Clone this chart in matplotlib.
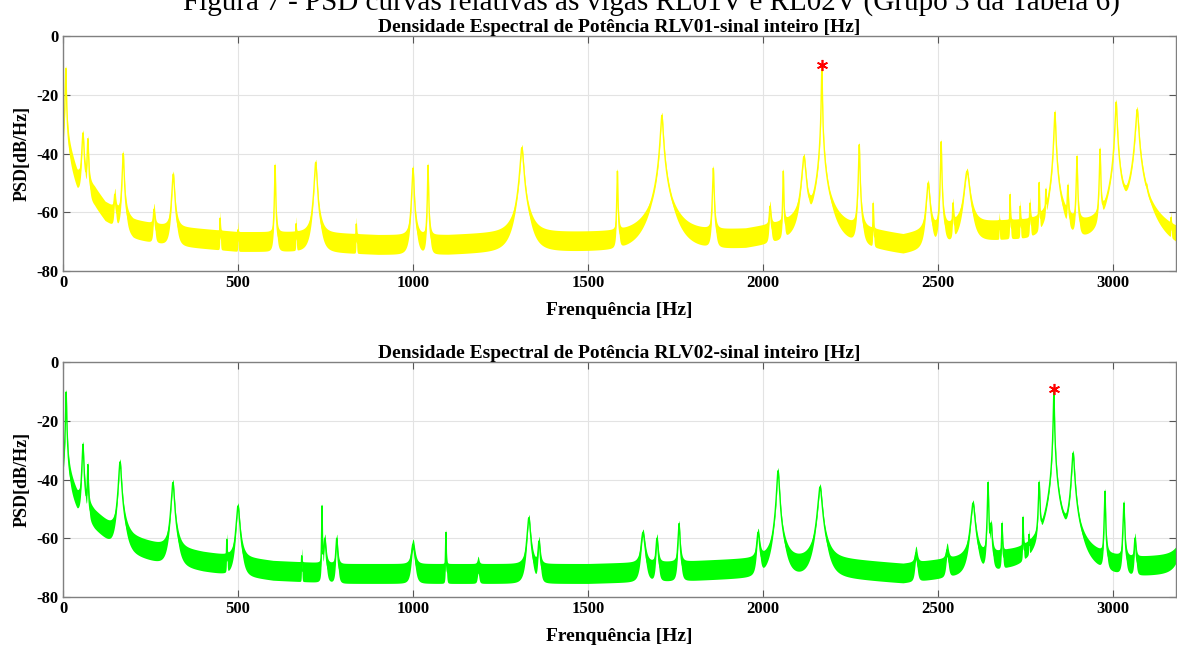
import numpy as np
import matplotlib.pyplot as plt

plt.rcParams['font.family'] = ['Liberation Serif', 'DejaVu Serif']
plt.rcParams['font.weight'] = 'bold'
plt.rcParams['axes.unicode_minus'] = False

# Frequency axis of the spectra [Hz]
freq = np.arange(0, 3200.01, 0.25)

# ---- RLV01 ----
rlv01_floor_hz = [0, 20, 40, 60, 90, 120, 150, 200, 300, 400, 500, 700, 900,
                  1100, 1300, 1500, 1700, 1950, 2100, 2250, 2400, 2550, 2700,
                  2850, 3000, 3200]
rlv01_floor_db = [-34, -42, -50, -52, -55, -60, -62, -66, -68, -69, -70, -70,
                  -71, -71, -70, -70, -70, -69, -66, -68, -71, -67, -66, -66,
                  -69, -71]
rlv01_peak_hz = [8, 57, 71, 148, 172, 260, 315, 449, 500, 606, 666, 722, 838,
                 1000, 1043, 1311, 1584, 1711, 1858, 2020, 2058, 2117, 2168,
                 2275, 2315, 2472, 2509, 2543, 2583, 2675, 2706, 2735, 2763,
                 2789, 2808, 2834, 2871, 2897, 2963, 3009, 3069, 3097, 3166]
rlv01_peak_db = [-11, -33, -35, -54, -40, -59, -47, -62, -66, -44, -64, -43,
                 -64, -45, -44, -38, -46, -27, -45, -58, -46, -41, -10, -37,
                 -57, -50, -36, -57, -46, -63, -54, -58, -57, -50, -53, -26,
                 -51, -41, -38.5, -22.5, -25, -58, -63]
rlv01_peak_width = [1.1, 2.5, 1.6, 2.5, 2, 2.5, 3, 0.8, 0.8, 1, 0.8, 3, 0.8,
                    2.2, 1, 4, 1, 3.2, 1.5, 2.5, 1, 4.5, 0.8, 1.3, 0.8, 4, 1.1,
                    1.5, 6, 0.8, 0.8, 0.8, 1.2, 0.8, 0.8, 2.0, 1.5, 1.2, 1.2,
                    2.2, 3.5, 1.5, 0.8]

# ---- RLV02 ----
rlv02_floor_hz = [0, 20, 40, 60, 90, 120, 160, 200, 300, 400, 600, 800, 1000,
                  1200, 1500, 1800, 2000, 2200, 2400, 2550, 2700, 2900, 3050,
                  3200]
rlv02_floor_db = [-36, -42, -48, -50, -54, -57, -61, -63, -66, -68, -71, -72,
                  -72, -72, -72, -71, -70, -70, -72, -70, -68, -69, -70, -69]
rlv02_peak_hz = [9, 57, 71, 163, 314, 468, 500, 682, 740, 748, 782, 1000,
                 1094, 1186, 1331, 1360, 1657, 1697, 1760, 1986, 2043, 2163,
                 2437, 2526, 2600, 2643, 2652, 2683, 2743, 2760, 2789, 2831,
                 2886, 2977, 3031, 3063, 3215]
rlv02_peak_db = [-10.2, -28, -35, -34, -41, -60.5, -49, -66, -49, -60, -60,
                 -62, -58, -69, -53, -61, -58, -60, -55, -58, -37, -42.5, -65,
                 -64, -48, -41, -55, -55, -53, -60, -41, -9.3, -31, -44, -48,
                 -60, -45]
rlv02_peak_width = [1.1, 2, 1.2, 3.2, 3.5, 0.8, 4, 0.8, 0.6, 3, 2.5, 5, 0.8,
                    3, 4, 3, 5, 3, 2.4, 4, 3, 4.8, 4, 4, 5, 1.2, 2.4, 1.2, 0.8,
                    0.8, 1.6, 1.0, 3.2, 1.2, 1.6, 2.4, 6]


def spectrum(floor_hz, floor_db, peak_hz, peak_db, width):
    floor = np.interp(freq, floor_hz, floor_db)
    power = 10 ** (floor / 10)
    for f0, level, g in zip(peak_hz, peak_db, width):
        base_here = 10 ** (np.interp(f0, floor_hz, floor_db) / 10)
        amp = max(10 ** (level / 10) - base_here, 0.0)
        power = power + amp / (1 + ((freq - f0) / g) ** 2) ** 1.5
    return 10 * np.log10(power), floor


panels = [
    ('Densidade Espectral de Potência RLV01-sinal inteiro [Hz]', '#FFFF00',
     rlv01_floor_hz, rlv01_floor_db, rlv01_peak_hz, rlv01_peak_db,
     rlv01_peak_width),
    ('Densidade Espectral de Potência RLV02-sinal inteiro [Hz]', '#00FF00',
     rlv02_floor_hz, rlv02_floor_db, rlv02_peak_hz, rlv02_peak_db,
     rlv02_peak_width),
]

fig = plt.figure(figsize=(11.77, 6.46), dpi=100)
fig.text(651 / 1177, 1 - 10 / 646, 'Figura 7 - PSD curvas relativas às vigas '
         'RL01V e RL02V (Grupo 3 da Tabela 6)', ha='center', va='baseline',
         fontsize=21, fontweight='normal')

axes_rects = [
    [63 / 1177, 1 - 271 / 646, 1113 / 1177, 235 / 646],
    [63 / 1177, 1 - 597 / 646, 1113 / 1177, 235 / 646],
]

for rect, (title, color, fh, fd, ph, pd, pw) in zip(axes_rects, panels):
    ax = fig.add_axes(rect)
    psd, floor = spectrum(fh, fd, ph, pd, pw)
    spread = 3.4 * np.clip(1 - (psd - floor) / 20, 0.3, 1)
    ax.fill_between(freq, psd - spread, psd + spread, color=color, lw=0)
    ax.plot(freq, psd, color=color, lw=1.0)
    i = int(np.argmax(psd))
    ax.plot(freq[i], psd[i], marker=(6, 2, 0), color='red', ms=8, mew=1.2,
            linestyle='none')

    ax.set_xlim(0, 3180)
    ax.set_ylim(-80, 0)
    ax.set_xticks([0, 500, 1000, 1500, 2000, 2500, 3000])
    ax.set_yticks([-80, -60, -40, -20, 0])
    ax.grid(True, color='#e3e3e3', lw=0.8)
    ax.set_axisbelow(True)
    ax.tick_params(direction='in', top=True, right=True, length=5,
                   width=0.8, color='#555555', labelsize=12, pad=3)
    for s in ax.spines.values():
        s.set_color('#808080')
        s.set_linewidth(1.0)
    ax.set_title(title, fontsize=14, fontweight='bold', pad=3)
    ax.set_xlabel('Frenquência [Hz]', fontsize=14, fontweight='bold',
                  labelpad=8)
    ax.set_ylabel('PSD[dB/Hz]', fontsize=13, fontweight='bold', labelpad=4)

fig.savefig('out.png', dpi=100)
